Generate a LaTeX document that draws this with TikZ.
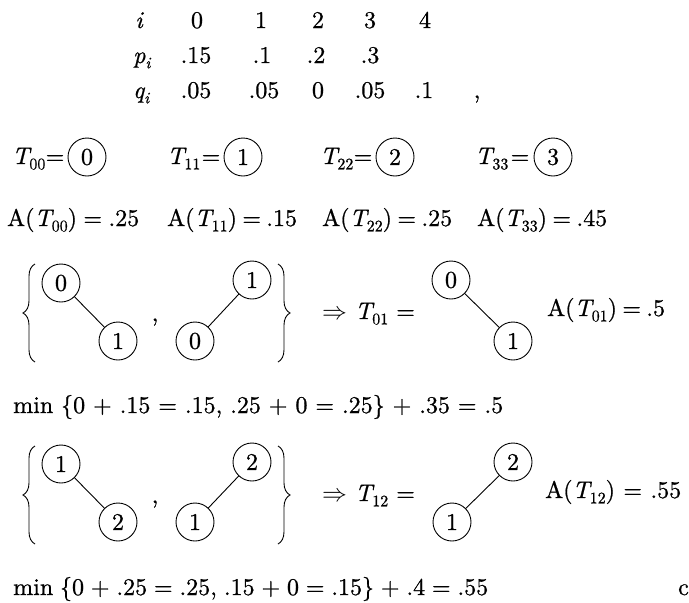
\documentclass[tikz,border=0pt]{standalone}
\usepackage{fontspec}
\setmainfont{lmroman10-regular.otf}[ItalicFont=lmroman10-italic.otf, FakeBold=0.8]
\usetikzlibrary{decorations.pathreplacing}
\newcommand\sbx[1]{\raisebox{-0.22em}{\fontsize{16}{16}\selectfont #1}}
\newcommand\Tx[1]{{\itshape T}\sbx{#1}}
\begin{document}
\begin{tikzpicture}[x=1pt,y=-1pt,
  every node/.style={font=\fontsize{24}{28}\selectfont, inner sep=0pt},
  txt/.style={anchor=base west},
  ctxt/.style={anchor=base},
  circ/.style={circle, draw, line width=0.9pt, minimum size=38pt, inner sep=0pt},
  edge/.style={line width=0.9pt},
  bracestyle/.style={decorate, decoration={brace, amplitude=12pt}, line width=0.9pt}]
\useasboundingbox (0,0) rectangle (689,603);
% table
\node[ctxt] (hi) at (139,28) {\itshape i};
\node[txt] (hp) at (133,63) {{\itshape p}\sbx{\itshape i}};
\node[txt] (hq) at (133,98) {{\itshape q}\sbx{\itshape i}};
\node[ctxt] (i0) at (197,28) {0};
\node[ctxt] (i1) at (261,28) {1};
\node[ctxt] (i2) at (318,28) {2};
\node[ctxt] (i3) at (370,28) {3};
\node[ctxt] (i4) at (425,28) {4};
\node[ctxt] (p0) at (196,63) {.15};
\node[ctxt] (p1) at (262,63) {.1};
\node[ctxt] (p2) at (316,63) {.2};
\node[ctxt] (p3) at (370,63) {.3};
\node[ctxt] (q0) at (196,98) {.05};
\node[ctxt] (q1) at (264,98) {.05};
\node[ctxt] (q2) at (318,98) {0};
\node[ctxt] (q3) at (370,98) {.05};
\node[ctxt] (q4) at (424,98) {.1};
\node[ctxt] (qc) at (477,98) {,};
% T row
\node[txt] (t00) at (12,164) {\Tx{00}};
\node[ctxt] (e00) at (55,164) {=};
\node[circ] (c00) at (87,157) {0};
\node[txt] (t11) at (167,164) {\Tx{11}};
\node[ctxt] (e11) at (211,164) {=};
\node[circ] (c11) at (243,157) {1};
\node[txt] (t22) at (320,164) {\Tx{22}};
\node[ctxt] (e22) at (363,164) {=};
\node[circ] (c22) at (395,157) {2};
\node[txt] (t33) at (475,164) {\Tx{33}};
\node[ctxt] (e33) at (520,164) {=};
\node[circ] (c33) at (553,157) {3};
% A row
\node[txt] (a00) at (7,226) {\makebox[132pt][s]{A(\Tx{00}) = .25}};
\node[txt] (a11) at (167,226) {\makebox[128pt][s]{A(\Tx{11}) = .15}};
\node[txt] (a22) at (322,226) {\makebox[130pt][s]{A(\Tx{22}) = .25}};
\node[txt] (a33) at (477,226) {\makebox[130pt][s]{A(\Tx{33}) = .45}};
% group 1
\coordinate (b1a) at (35,362); \coordinate (b1b) at (35,264);
\draw[bracestyle] (b1a) -- (b1b);
\node[circ] (g1a) at (61,283) {0};
\node[circ] (g1b) at (118,341) {1};
\draw[edge] (g1a) -- (g1b);
\node[ctxt] (cm1) at (155,321) {,};
\node[circ] (g1c) at (195,341) {0};
\node[circ] (g1d) at (252,280) {1};
\draw[edge] (g1c) -- (g1d);
\coordinate (b1c) at (278,264); \coordinate (b1d) at (278,362);
\draw[bracestyle] (b1c) -- (b1d);
\node[txt] (imp1) at (322,319) {$\Rightarrow$ \Tx{01} =};
\node[circ] (g1e) at (451,280) {0};
\node[circ] (g1f) at (513,341) {1};
\draw[edge] (g1e) -- (g1f);
\node[txt] (a01) at (547,316) {\makebox[108pt][s]{A(\Tx{01}) = .5}};
\node[txt] (min1) at (13,413) {\makebox[490pt][s]{min \{0 + .15 = .15, .25 + 0 = .25\} + .35 = .5}};
% group 2
\coordinate (b2a) at (35,544); \coordinate (b2b) at (35,446);
\draw[bracestyle] (b2a) -- (b2b);
\node[circ] (g2a) at (61,464) {1};
\node[circ] (g2b) at (118,522) {2};
\draw[edge] (g2a) -- (g2b);
\node[ctxt] (cm2) at (155,503) {,};
\node[circ] (g2c) at (195,522) {1};
\node[circ] (g2d) at (252,462) {2};
\draw[edge] (g2c) -- (g2d);
\coordinate (b2c) at (278,446); \coordinate (b2d) at (278,544);
\draw[bracestyle] (b2c) -- (b2d);
\node[txt] (imp2) at (322,501) {$\Rightarrow$ \Tx{12} =};
\node[circ] (g2e) at (513,462) {2};
\node[circ] (g2f) at (452,522) {1};
\draw[edge] (g2f) -- (g2e);
\node[txt] (a12) at (545,498) {\makebox[136pt][s]{A(\Tx{12}) = .55}};
\node[txt] (min2) at (13,595) {\makebox[475pt][s]{min \{0 + .25 = .25, .15 + 0 = .15\} + .4 = .55}};
\node[txt] (cc) at (678,595) {c};
\end{tikzpicture}
\end{document}
